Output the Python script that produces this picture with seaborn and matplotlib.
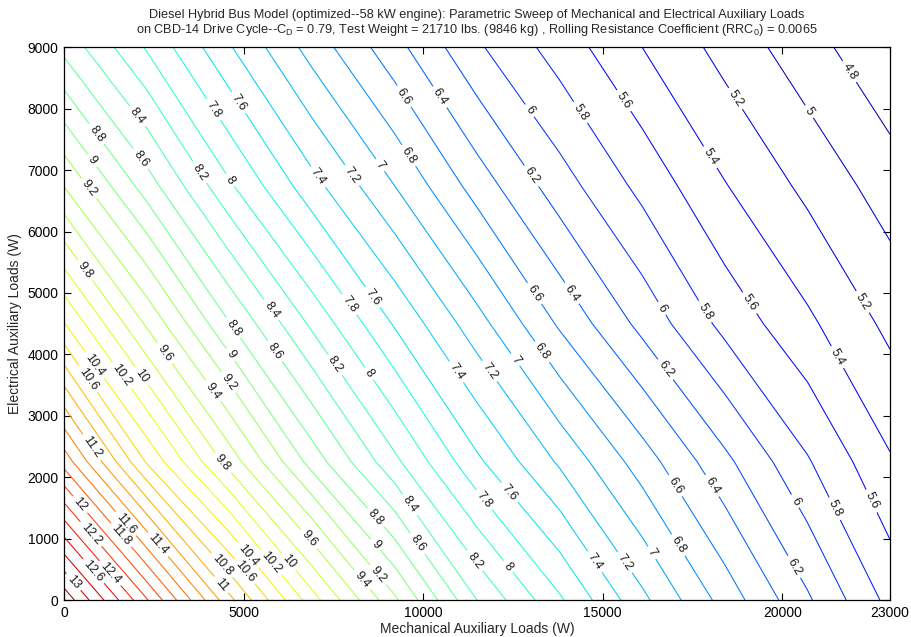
import numpy as np
import matplotlib
matplotlib.use("Agg")
import matplotlib.pyplot as plt
import seaborn as sns

# Sweep grid: mechanical load (x) and electrical load (y), in watts
mech_load_w = [0, 2300, 4600, 6900, 9200, 11500, 13800, 16100, 18400, 20700, 23000]
elec_load_w = [0, 2250, 4500, 6750, 9000]

# Fuel economy results, one list per electrical load level
fe_elec_0 = [13.34, 12.22, 11.06, 10.09, 9.24, 8.40, 7.83, 7.25, 6.72, 6.23, 5.74]
fe_elec_2250 = [11.72, 10.58, 9.72, 8.92, 8.25, 7.64, 7.17, 6.70, 6.25, 5.82, 5.42]
fe_elec_4500 = [10.41, 9.57, 8.81, 8.16, 7.58, 7.08, 6.57, 6.14, 5.74, 5.44, 5.15]
fe_elec_6750 = [9.39, 8.70, 8.03, 7.47, 7.00, 6.51, 6.09, 5.74, 5.41, 5.15, 4.90]
fe_elec_9000 = [8.54, 7.98, 7.42, 6.92, 6.47, 6.03, 5.71, 5.40, 5.13, 4.88, 4.63]

contour_levels = np.round(np.arange(4.8, 13.21, 0.2), 1)
color_range = (4.4, 13.5)
x_ticks = [0, 5000, 10000, 15000, 20000, 23000]
y_ticks = [0, 1000, 2000, 3000, 4000, 5000, 6000, 7000, 8000, 9000]

# Where the inline contour labels sit: (level, x, y) in data units;
# each label snaps onto the nearest point of its own contour line.
upper_label_anchors = [
    (4.8, 21800, 8580), (5.0, 20720, 7940), (5.2, 18630, 8140), (5.4, 17990, 7210),
    (5.6, 15480, 8090), (5.8, 14280, 7900), (6.0, 12920, 7950), (6.2, 12980, 6890),
    (6.4, 10330, 8140), (6.6, 9300, 8140), (6.8, 9500, 7200), (7.0, 8800, 7080),
    (7.2, 7960, 6890), (7.4, 7070, 6890), (7.6, 4760, 8060), (7.8, 4070, 7950),
    (8.0, 4710, 6870), (8.2, 3790, 6970), (8.4, 1980, 7850), (8.6, 2170, 7200),
    (8.8, 860, 7570), (9.0, 810, 7170), (9.2, 640, 6680),
]
middle_label_anchors = [
    (5.2, 22220, 4850), (5.4, 21550, 3960), (5.6, 19100, 4840), (5.8, 17770, 4670),
    (6.0, 16570, 4720), (6.2, 16650, 3710), (6.4, 14150, 5000), (6.6, 13120, 5000),
    (6.8, 13310, 4040), (7.0, 12560, 3910), (7.2, 11810, 3710), (7.4, 10890, 3700),
    (7.6, 8600, 4930), (7.8, 7910, 4800), (8.0, 8520, 3700), (8.2, 7550, 3830),
    (8.4, 5650, 4670), (8.6, 5790, 4020), (8.8, 4710, 4430), (9.0, 4620, 3990),
    (9.2, 4540, 3530), (9.4, 4120, 3390), (9.6, 2870, 4040), (9.8, 590, 5370),
    (10.0, 2200, 3660), (10.2, 1620, 3660), (10.4, 780, 3790), (10.6, 720, 3620),
    (11.2, 780, 2490),
]
lower_label_anchors = [
    (5.6, 22440, 1600), (5.8, 21440, 1480), (6.0, 20330, 1600), (6.2, 20330, 540),
    (6.4, 17990, 1840), (6.6, 16960, 1840), (6.8, 17010, 860), (7.0, 16260, 730),
    (7.2, 15510, 570), (7.4, 14700, 590), (7.6, 12360, 1730), (7.8, 11700, 1630),
    (8.0, 12360, 540), (8.2, 11390, 620), (8.4, 9750, 1600), (8.6, 9800, 900),
    (8.8, 8600, 1300), (9.0, 8600, 860), (9.2, 8600, 340), (9.4, 8210, 290),
    (9.6, 6790, 980), (9.8, 4400, 2220), (10.0, 6240, 620), (10.2, 5680, 570),
    (10.4, 5070, 700), (10.6, 5150, 520), (10.8, 4400, 570), (11.0, 4400, 260),
    (11.4, 2530, 860), (11.6, 1620, 1190), (11.8, 1530, 1030), (12.0, 360, 1510),
    (12.2, 720, 1060), (12.4, 1170, 380), (12.6, 720, 420), (13.0, 200, 260),
]

title_text = (
    "Diesel Hybrid Bus Model (optimized--58 kW engine): Parametric Sweep of "
    "Mechanical and Electrical Auxiliary Loads\n"
    r"on CBD-14 Drive Cycle--C$_\mathrm{D}$ = 0.79, Test Weight = 21710 lbs. "
    r"(9846 kg) , Rolling Resistance Coefficient (RRC$_\mathrm{0}$) = 0.0065"
)

sns.set_theme(style="ticks")
plt.rcParams["font.family"] = ["Liberation Sans", "DejaVu Sans"]
plt.rcParams["mathtext.fontset"] = "custom"
plt.rcParams["mathtext.rm"] = "Liberation Sans"
plt.rcParams["mathtext.it"] = "Liberation Sans:italic"
plt.rcParams["mathtext.bf"] = "Liberation Sans:bold"

Z = np.array([fe_elec_0, fe_elec_2250, fe_elec_4500, fe_elec_6750, fe_elec_9000])
X, Y = np.meshgrid(mech_load_w, elec_load_w)

fig = plt.figure(figsize=(9.11, 6.37), dpi=100)
fig.patch.set_facecolor("white")
ax = fig.add_axes([64 / 911, 37 / 637, 826 / 911, 552.7 / 637])
ax.set_xlim(mech_load_w[0], mech_load_w[-1])
ax.set_ylim(elec_load_w[0], elec_load_w[-1])

cmap = matplotlib.colormaps["jet"]
norm = plt.Normalize(*color_range)

anchors_by_level = {}
for lv, ax_x, ax_y in upper_label_anchors + middle_label_anchors + lower_label_anchors:
    anchors_by_level.setdefault(round(lv, 1), []).append((ax_x, ax_y))

# One contour set per level so every label anchor snaps to its own line
for lv in contour_levels:
    cs = ax.contour(X, Y, Z, levels=[lv], colors=[cmap(norm(lv))],
                    linewidths=0.75)
    spots = anchors_by_level.get(round(float(lv), 1))
    if spots:
        ax.clabel(cs, fmt="%g", fontsize=9, colors="k", inline=True,
                  inline_spacing=4, manual=spots)

ax.set_xticks(x_ticks)
ax.set_yticks(y_ticks)
ax.tick_params(direction="in", top=True, right=True, length=5, width=0.8,
               labelsize=10, colors="black", pad=4)
for spine in ax.spines.values():
    spine.set_color("black")
    spine.set_linewidth(0.9)

ax.set_xlabel("Mechanical Auxiliary Loads (W)", fontsize=10, labelpad=2)
ax.set_ylabel("Electrical Auxiliary Loads (W)", fontsize=10, labelpad=4)
ax.set_title(title_text, fontsize=9.2, pad=10, linespacing=1.1)

fig.savefig("out.png", dpi=100, facecolor="white")
